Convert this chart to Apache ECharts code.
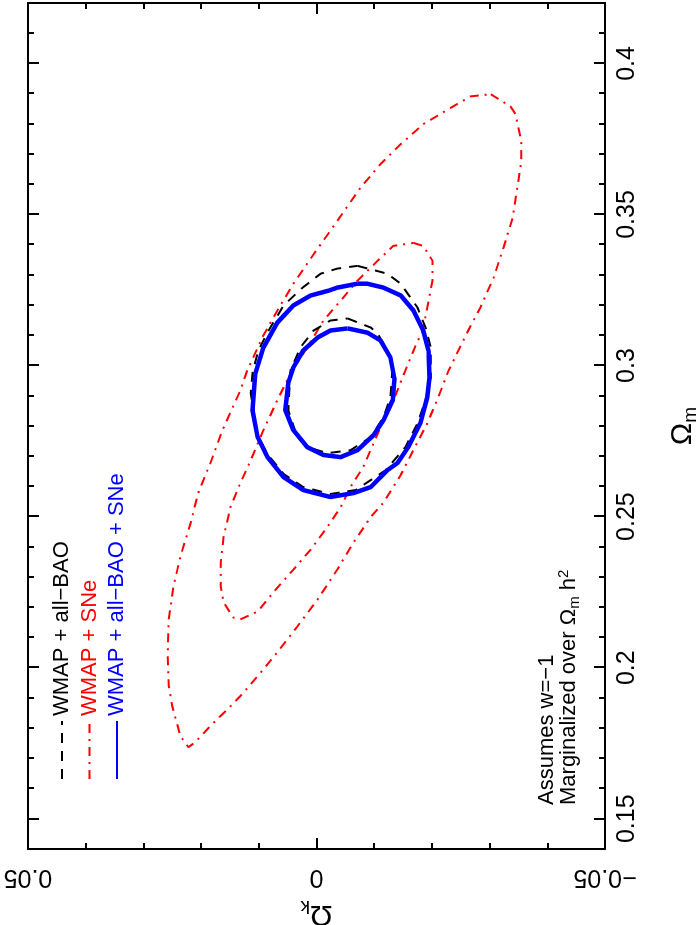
<!DOCTYPE html>
<html>
<head>
<meta charset="utf-8">
<script src="https://cdn.jsdelivr.net/npm/echarts@6/dist/echarts.min.js"></script>
<style>
html, body { margin: 0; padding: 0; background: #fff; overflow: hidden; }
#wrap { position: absolute; left: 0; top: 0; width: 699px; height: 925px; overflow: hidden; }
/* chart is drawn landscape and turned a quarter turn, like the original figure */
#chart { position: absolute; left: 0; top: 0; width: 925px; height: 699px;
  transform-origin: 0 0; transform: translate(0, 925px) rotate(-90deg); }
</style>
</head>
<body>
<div id="wrap"><div id="chart"></div></div>
<script>
// axis ticks
var omTicks = [0.15, 0.2, 0.25, 0.3, 0.35, 0.4];
var okTicks = [-0.05, 0, 0.05];

// legend names
var names = ["WMAP + all\u2212BAO", "WMAP + SNe", "WMAP + all\u2212BAO + SNe"];

// contours: [Omega_m, Omega_k]
var redOuter = [
  [0.3898, -0.0302], [0.3858, -0.0336], [0.3832, -0.0345], [0.3786, -0.0350], [0.3743, -0.0355],
  [0.3677, -0.0355], [0.3588, -0.0348], [0.3489, -0.0340], [0.3390, -0.0324], [0.3291, -0.0307],
  [0.3192, -0.0284], [0.3116, -0.0263], [0.2984, -0.0229], [0.2895, -0.0211], [0.2809, -0.0192],
  [0.2720, -0.0168], [0.2638, -0.0146], [0.2546, -0.0116], [0.2499, -0.0094], [0.2414, -0.0064],
  [0.2325, -0.0036], [0.2226, -0.0002], [0.2137, 0.0033], [0.2051, 0.0068], [0.1972, 0.0102],
  [0.1906, 0.0132], [0.1863, 0.0154], [0.1807, 0.0184], [0.1754, 0.0210], [0.1737, 0.0222],
  [0.1774, 0.0236], [0.1873, 0.0250], [0.1939, 0.0256], [0.2038, 0.0258], [0.2160, 0.0256],
  [0.2268, 0.0248], [0.2367, 0.0236], [0.2480, 0.0218], [0.2578, 0.0205], [0.2677, 0.0184],
  [0.2786, 0.0163], [0.2918, 0.0132], [0.2984, 0.0120], [0.3093, 0.0094], [0.3182, 0.0068],
  [0.3271, 0.0040], [0.3363, 0.0007], [0.3446, -0.0024], [0.3528, -0.0054], [0.3588, -0.0076],
  [0.3667, -0.0111], [0.3733, -0.0146], [0.3799, -0.0185], [0.3858, -0.0237], [0.3891, -0.0267],
  [0.3898, -0.0302]
];
var redInner = [
  [0.3406, -0.0168], [0.3396, -0.0185], [0.3347, -0.0201], [0.3281, -0.0201], [0.3192, -0.0192],
  [0.3116, -0.0184], [0.3067, -0.0172], [0.2984, -0.0154], [0.2902, -0.0137], [0.2819, -0.0116],
  [0.2743, -0.0099], [0.2664, -0.0081], [0.2598, -0.0059], [0.2532, -0.0042], [0.2466, -0.0019],
  [0.2391, 0.0010], [0.2325, 0.0040], [0.2249, 0.0075], [0.2186, 0.0102], [0.2160, 0.0132],
  [0.2166, 0.0144], [0.2216, 0.0161], [0.2268, 0.0166], [0.2348, 0.0166], [0.2433, 0.0161],
  [0.2532, 0.0149], [0.2611, 0.0132], [0.2687, 0.0114], [0.2786, 0.0092], [0.2885, 0.0068],
  [0.2974, 0.0045], [0.3060, 0.0016], [0.3149, -0.0012], [0.3215, -0.0042], [0.3281, -0.0071],
  [0.3347, -0.0106], [0.3396, -0.0133], [0.3406, -0.0168]
];
var blackOuter = [
  [0.3330, -0.0071], [0.3304, -0.0123], [0.3271, -0.0146], [0.3192, -0.0175], [0.3126, -0.0189],
  [0.3060, -0.0198], [0.2961, -0.0198], [0.2885, -0.0189], [0.2809, -0.0175], [0.2730, -0.0154],
  [0.2654, -0.0120], [0.2588, -0.0068], [0.2575, -0.0024], [0.2598, 0.0023], [0.2641, 0.0057],
  [0.2707, 0.0085], [0.2776, 0.0104], [0.2908, 0.0114], [0.2974, 0.0111], [0.3050, 0.0101],
  [0.3126, 0.0080], [0.3199, 0.0057], [0.3258, 0.0024], [0.3304, -0.0007], [0.3321, -0.0036],
  [0.3330, -0.0071]
];
var blackInner = [
  [0.3156, -0.0054], [0.3126, -0.0094], [0.3106, -0.0106], [0.3050, -0.0123], [0.2994, -0.0132],
  [0.2895, -0.0128], [0.2829, -0.0116], [0.2763, -0.0094], [0.2720, -0.0059], [0.2710, -0.0019],
  [0.2730, 0.0016], [0.2763, 0.0033], [0.2852, 0.0049], [0.2984, 0.0045], [0.3060, 0.0028],
  [0.3116, 0.0005], [0.3149, -0.0024], [0.3156, -0.0054]
];
var blueOuter = [
  [0.3271, -0.0071], [0.3271, -0.0088], [0.3258, -0.0116], [0.3232, -0.0146], [0.3182, -0.0168],
  [0.3116, -0.0185], [0.3050, -0.0194], [0.2961, -0.0196], [0.2895, -0.0192], [0.2809, -0.0180],
  [0.2730, -0.0159], [0.2677, -0.0140], [0.2654, -0.0123], [0.2631, -0.0111], [0.2598, -0.0094],
  [0.2578, -0.0064], [0.2565, -0.0024], [0.2588, 0.0023], [0.2631, 0.0057], [0.2697, 0.0085],
  [0.2763, 0.0102], [0.2852, 0.0111], [0.2974, 0.0106], [0.3060, 0.0092], [0.3142, 0.0068],
  [0.3199, 0.0040], [0.3232, 0.0010], [0.3248, -0.0021], [0.3258, -0.0036], [0.3271, -0.0071]
];
var blueInner = [
  [0.3123, -0.0054], [0.3109, -0.0088], [0.3083, -0.0111], [0.3027, -0.0128], [0.2958, -0.0135],
  [0.2885, -0.0132], [0.2819, -0.0116], [0.2770, -0.0099], [0.2720, -0.0071], [0.2697, -0.0042],
  [0.2704, -0.0012], [0.2730, 0.0016], [0.2786, 0.0040], [0.2852, 0.0054], [0.2941, 0.0049],
  [0.2994, 0.0040], [0.3050, 0.0023], [0.3093, -0.0002], [0.3116, -0.0024], [0.3123, -0.0054]
];

var FONT = "'Liberation Sans', Arial, sans-serif";
var rich = {
  o: { fontSize: 30, lineHeight: 34, fontFamily: FONT, color: "#000" },
  s: { fontSize: 19, lineHeight: 19, verticalAlign: "bottom", fontFamily: FONT, color: "#000" }
};

var chart = echarts.init(document.getElementById("chart"));

function xAx(pos, major, labels) {
  var a = {
    type: "value", position: pos, min: 0.14, max: 0.42, interval: 0.01,
    splitLine: { show: false },
    axisLine: { show: !major, onZero: false, lineStyle: { color: "#000", width: 2 } },
    axisTick: { show: true, inside: true, length: major ? 11 : 6, lineStyle: { color: "#000", width: 2 } },
    axisLabel: { show: false }
  };
  if (major) a.axisTick.customValues = omTicks;
  if (labels) {
    a.axisLabel = { show: true, customValues: omTicks, margin: 10, fontSize: 25, color: "#000", fontFamily: FONT };
    a.name = "{o|\u03A9}{s|m}";
    a.nameLocation = "middle";
    a.nameGap = 61;
    a.nameTextStyle = { rich: rich };
  }
  return a;
}

function yAx(pos, labels) {
  var a = {
    type: "value", position: pos, min: -0.05, max: 0.05, interval: 0.05,
    splitLine: { show: false },
    axisLine: { show: true, onZero: false, lineStyle: { color: "#000", width: 2 } },
    axisTick: { show: true, inside: true, length: 11, lineStyle: { color: "#000", width: 2 } },
    minorTick: { show: true, splitNumber: 5, length: 6, lineStyle: { color: "#000", width: 2 } },
    axisLabel: { show: false }
  };
  if (labels) {
    a.axisLabel = {
      show: true, rotate: 90, margin: 15, fontSize: 25, color: "#000", fontFamily: FONT,
      formatter: function (v) {
        if (Math.abs(v) < 1e-9) return "0";
        return v < 0 ? "\u2212" + (-v).toFixed(2) : v.toFixed(2);
      }
    };
    a.name = "{o|\u03A9}{s|k}";
    a.nameLocation = "middle";
    a.nameGap = 36;
    a.nameTextStyle = { rich: rich };
  }
  return a;
}

function contour(name, data, color, width, type, z) {
  return {
    name: name, type: "line", data: data, symbol: "none", smooth: false, z: z,
    xAxisIndex: 0, yAxisIndex: 0, silent: true,
    lineStyle: { color: color, width: width, type: type },
    itemStyle: { color: color }
  };
}

var option = {
  animation: false,
  backgroundColor: "#fff",
  textStyle: { fontFamily: FONT },
  grid: { left: 76, right: 3, top: 28, bottom: 94, containLabel: false, outerBoundsMode: "none" },
  xAxis: [xAx("bottom", false, true), xAx("bottom", true, false), xAx("top", false, false), xAx("top", true, false)],
  yAxis: [yAx("left", true), yAx("right", false)],
  legend: {
    orient: "vertical", left: 140, top: 46, itemWidth: 58, itemHeight: 14, itemGap: 5.5,
    selectedMode: false,
    itemStyle: { opacity: 0 },
    textStyle: { fontSize: 22, lineHeight: 22, fontFamily: FONT },
    data: [
      { name: names[0], textStyle: { color: "#000" } },
      { name: names[1], textStyle: { color: "#ff0000" } },
      { name: names[2], textStyle: { color: "#0000ff" } }
    ]
  },
  graphic: [
    {
      type: "text", left: 120, top: 536,
      style: { text: "Assumes w=\u22121", fontSize: 22, fontFamily: FONT, fill: "#000" }
    },
    {
      type: "text", left: 120, top: 556,
      style: {
        text: "Marginalized over {o|\u03A9}{s|m} h{p|2}", fontSize: 22, lineHeight: 26, fontFamily: FONT, fill: "#000",
        rich: {
          o: { fontSize: 22, lineHeight: 26, fontFamily: FONT },
          s: { fontSize: 15, lineHeight: 15, verticalAlign: "bottom", fontFamily: FONT },
          p: { fontSize: 15, lineHeight: 15, verticalAlign: "top", fontFamily: FONT }
        }
      }
    }
  ],
  series: [
    contour(names[1], redOuter, "#ff0000", 2, [9, 6, 2, 6], 2),
    contour(names[1], redInner, "#ff0000", 2, [9, 6, 2, 6], 2),
    contour(names[0], blackOuter, "#000", 2, [10, 8], 3),
    contour(names[0], blackInner, "#000", 2, [10, 8], 3),
    contour(names[2], blueOuter, "#0000ff", 4.5, "solid", 4),
    contour(names[2], blueInner, "#0000ff", 4.5, "solid", 4)
  ]
};

chart.setOption(option);
</script>
</body>
</html>
